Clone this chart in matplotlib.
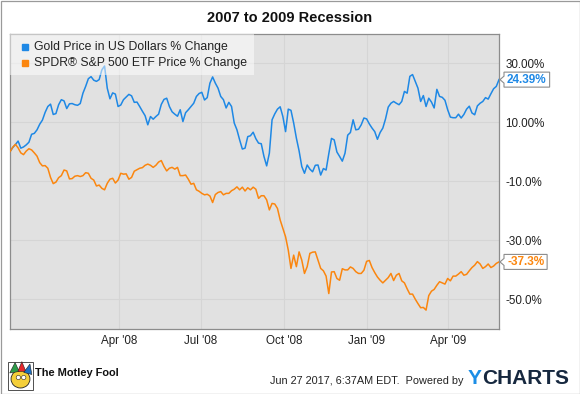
import matplotlib
matplotlib.use('Agg')
import matplotlib.pyplot as plt
from matplotlib.patches import Rectangle, Polygon, Ellipse
from matplotlib.lines import Line2D
from matplotlib.transforms import IdentityTransform
import pandas as pd

plt.rcParams['font.family'] = ['Liberation Sans', 'DejaVu Sans']

# ---------------- data ----------------
title = "2007 to 2009 Recession"
series_names = ["Gold Price in US Dollars % Change",
                "SPDR\u00ae S&P 500 ETF Price % Change"]
start_date = "2007-12-02"
step = "3D"

gold = [0.0, 1.4, 2.4, 3.6, 1.2, 1.6, 2.3, 3.2, 5.9, 6.2, 7.4, 9.3, 10.7, 13.3, 15.3, 16.1, 12.6, 12.9, 15.9, 17.6, 17.2, 14.6, 16.2, 16.3, 15.9, 15.7,
        16.3, 19.8, 22.1, 24.7, 25.4, 24.2, 23.8, 24.4, 27.7, 29.0, 21.5, 17.9, 19.9, 19.5, 15.3, 15.8, 17.6, 18.5, 19.4, 18.9, 16.7, 16.8, 15.3, 13.7, 12.2, 9.1,
        11.9, 11.0, 11.9, 12.7, 16.0, 17.7, 18.1, 15.3, 13.5, 12.7, 12.0, 14.2, 10.2, 13.2, 14.2, 15.3, 16.4, 18.7, 19.7, 20.1, 17.5, 18.3, 23.2, 25.3, 23.2, 21.5,
        18.7, 17.6, 14.8, 16.7, 15.3, 9.7, 7.4, 4.0, 0.9, 1.2, 5.1, 5.4, 6.6, 4.4, 2.9, 2.7, -1.6, -4.8, -0.5, 10.8, 12.8, 14.4, 15.2, 11.9, 6.8, 14.4,
        14.0, 9.7, 4.6, 0.3, -5.0, -7.3, -4.5, -5.9, -6.8, -4.6, -4.5, -7.9, -5.7, -6.2, -0.7, 4.5, 4.0, -0.1, -1.6, -3.2, -0.5, 5.6, 6.5, 10.8, 7.4, 7.6,
        9.1, 11.4, 11.1, 9.4, 8.0, 6.8, 4.2, 6.5, 8.0, 11.1, 15.1, 16.4, 17.0, 16.4, 15.9, 17.0, 20.4, 19.8, 25.5, 26.1, 23.8, 21.5, 17.0, 19.0, 15.3, 18.1,
        16.8, 14.8, 21.1, 18.7, 18.4, 17.4, 14.2, 11.7, 11.5, 11.5, 12.7, 11.4, 12.6, 14.4, 15.4, 13.1, 12.5, 15.5, 16.4, 17.0, 18.3, 17.8, 19.6, 21.3, 22.1, 24.39]

spy = [0.0, 1.5, 2.5, 1.3, -0.4, -1.0, 0.2, 1.0, 0.6, -0.4, -1.5, -3.7, -4.8, -4.7, -5.6, -8.7, -10.8, -10.3, -8.8, -8.1, -6.2, -6.5, -9.2, -9.1, -8.3, -8.1,
       -8.4, -8.1, -7.1, -7.3, -9.0, -9.6, -11.6, -11.3, -12.4, -12.9, -10.7, -9.3, -9.0, -10.6, -9.6, -7.3, -7.6, -7.5, -9.3, -8.7, -6.6, -6.1, -5.6, -5.4, -4.6, -4.2,
       -4.6, -5.3, -4.6, -3.5, -3.0, -5.0, -6.5, -5.6, -5.3, -5.9, -5.3, -8.1, -8.1, -7.9, -9.3, -11.0, -10.7, -12.9, -13.4, -14.1, -14.6, -14.4, -15.0, -17.2, -14.5, -13.8,
       -13.5, -14.6, -14.1, -14.1, -13.2, -12.7, -11.9, -12.9, -12.0, -13.3, -12.2, -12.9, -12.0, -12.7, -15.8, -14.9, -14.9, -16.3, -19.7, -17.5, -17.7, -19.2, -23.1, -25.9, -28.8, -33.3,
       -39.5, -35.0, -38.9, -33.9, -36.7, -41.2, -38.9, -34.4, -34.0, -33.9, -36.7, -39.5, -40.3, -42.1, -48.0, -40.7, -40.6, -42.9, -43.5, -39.6, -40.0, -40.0, -39.0, -39.5, -40.6, -41.2,
       -41.2, -40.1, -37.1, -36.8, -39.2, -40.9, -42.4, -43.5, -44.4, -43.5, -42.6, -41.2, -43.6, -41.8, -41.2, -43.7, -44.4, -46.4, -48.2, -48.2, -49.9, -51.4, -52.8, -52.7, -53.6, -48.7,
       -47.2, -46.6, -45.2, -44.0, -44.4, -44.8, -42.9, -43.7, -42.1, -42.1, -41.4, -40.6, -41.8, -41.5, -40.3, -39.2, -38.4, -37.2, -38.0, -39.5, -38.9, -38.0, -39.2, -38.7, -37.8, -37.3]

gold_last_label = "24.39%"
spy_last_label = "-37.3%"
ytick_values = [30, 10, -10, -30, -50]
ytick_labels = ["30.00%", "10.00%", "-10.0%", "-30.0%", "-50.0%"]
xtick_dates = ["2008-04-01", "2008-07-01", "2008-10-01", "2009-01-01", "2009-04-01"]
xtick_labels = ["Apr '08", "Jul '08", "Oct '08", "Jan '09", "Apr '09"]
footer_time = "Jun 27 2017, 6:37AM EDT.  Powered by"
brand_left = "The Motley Fool"

# ---------------- style ----------------
BLUE = '#1e88e5'
ORANGE = '#fb860f'
BG = '#e1e1e1'
GRID = '#d5d5d5'
SPINE = '#8c8c8c'

W, H = 580, 394
fig = plt.figure(figsize=(W / 100, H / 100), dpi=100)
fig.patch.set_facecolor('white')


def px(x0, y0, x1, y1):
    return [x0 / W, 1 - y1 / H, (x1 - x0) / W, (y1 - y0) / H]


ax = fig.add_axes(px(10, 33.5, 499, 329))
ax.set_facecolor(BG)

dates = pd.date_range(start_date, periods=len(gold), freq=step)
ax.plot(dates, gold, color=BLUE, lw=1.1, zorder=3, solid_joinstyle='round')
ax.plot(dates, spy, color=ORANGE, lw=1.1, zorder=3, solid_joinstyle='round')
ax.set_xlim(dates[0], dates[-1])
ax.set_ylim(-60, 40)

ax.set_yticks(ytick_values)
ax.set_yticklabels(ytick_labels)
ax.yaxis.tick_right()
ax.set_xticks(pd.to_datetime(xtick_dates))
ax.set_xticklabels(xtick_labels)
ax.tick_params(axis='both', length=0, labelsize=8.4, colors='#222222')
ax.tick_params(axis='y', pad=4.6)
ax.tick_params(axis='x', pad=4.0)
ax.grid(True, color=GRID, lw=0.8)
ax.set_axisbelow(True)
for s in ax.spines.values():
    s.set_color(SPINE)
    s.set_linewidth(0.9)

# legend (manual, translucent)
ax.add_patch(Rectangle((0, 0.8596), 0.499, 0.1404, transform=ax.transAxes,
                       facecolor='white', alpha=0.5, edgecolor='none', zorder=5))
for yy, col, name in [(0.9553, BLUE, series_names[0]), (0.8992, ORANGE, series_names[1])]:
    ax.add_line(Line2D([0.0299], [yy], transform=ax.transAxes, marker='s',
                       markersize=5.0, color=col, linestyle='none', zorder=6))
    ax.text(0.0485, yy, name, transform=ax.transAxes, va='center', ha='left',
            fontsize=8.8, color='#222222', zorder=6)

# title
fig.text(0.5, 1 - 18.3 / H, title, ha='center', va='center',
         fontsize=10.5, fontweight='bold', color='#111111')

# footer
fig.text(35 / W, 1 - 373.5 / H, brand_left, ha='left', va='center',
         fontsize=7.9, fontweight='bold', color='#111111')
fig.text(464 / W, 1 - 381.5 / H, footer_time, ha='right', va='center',
         fontsize=7.8, color='#222222')
t_y = fig.text(468 / W, 1 - 378.5 / H, "Y", ha='left', va='center',
               fontsize=15, fontweight='bold', color='#1c8ee6')

# Motley Fool jester icon (simple)
lax = fig.add_axes(px(7, 361, 34, 391))
lax.set_xlim(0, 1)
lax.set_ylim(0, 1)
lax.axis('off')
lax.add_patch(Rectangle((0.02, 0.02), 0.96, 0.96, facecolor='white', edgecolor='#333333', lw=0.6))
lax.add_patch(Ellipse((0.5, 0.4), 0.7, 0.6, facecolor='#f4cf3a', edgecolor='#222222', lw=0.6))
lax.add_patch(Polygon([[0.1, 0.6], [0.3, 0.95], [0.45, 0.65]], facecolor='#2b9b48', edgecolor='#222222', lw=0.4))
lax.add_patch(Polygon([[0.4, 0.65], [0.55, 0.98], [0.7, 0.65]], facecolor='#e4262b', edgecolor='#222222', lw=0.4))
lax.add_patch(Polygon([[0.62, 0.62], [0.85, 0.9], [0.92, 0.55]], facecolor='#1b6fc0', edgecolor='#222222', lw=0.4))
lax.add_patch(Ellipse((0.42, 0.45), 0.16, 0.14, facecolor='white', edgecolor='#222222', lw=0.4))
lax.add_patch(Ellipse((0.62, 0.45), 0.16, 0.14, facecolor='white', edgecolor='#222222', lw=0.4))

# outer border
fig.add_artist(Rectangle((0.5 / W, 0.5 / H), 1 - 1 / W, 1 - 1 / H, transform=fig.transFigure,
                         fill=False, edgecolor='#9a9a9a', lw=0.9))

fig.canvas.draw()
renderer = fig.canvas.get_renderer()

# "CHARTS" after the blue Y
bb = t_y.get_window_extent(renderer)
fig.text(bb.x1 / W, 1 - 378.5 / H, "CHARTS", ha='left', va='center',
         fontsize=15, fontweight='bold', color='#16283f')

# last-value labels with pointer boxes
right_disp = ax.transAxes.transform((1, 0))[0]
for val, label, col in [(gold[-1], gold_last_label, BLUE), (spy[-1], spy_last_label, ORANGE)]:
    yd = ax.transData.transform((ax.get_xlim()[1], val))[1]
    tx = fig.text((right_disp + 8) / W, yd / H, label, ha='left', va='center',
                  fontsize=8.5, fontweight='bold', color=col, zorder=11)
    fig.canvas.draw()
    tb = tx.get_window_extent(renderer)
    x0 = right_disp + 5
    x1 = tb.x1 + 3
    hh = 7.5
    pts = [(right_disp + 1, yd), (x0, yd + 3.5), (x0, yd + hh), (x1, yd + hh),
           (x1, yd - hh), (x0, yd - hh), (x0, yd - 3.5)]
    fig.add_artist(Polygon(pts, closed=True, transform=IdentityTransform(),
                           facecolor='white', edgecolor='#8c8c8c', lw=0.8, zorder=10))

fig.savefig('out.png', dpi=100, facecolor='white')
